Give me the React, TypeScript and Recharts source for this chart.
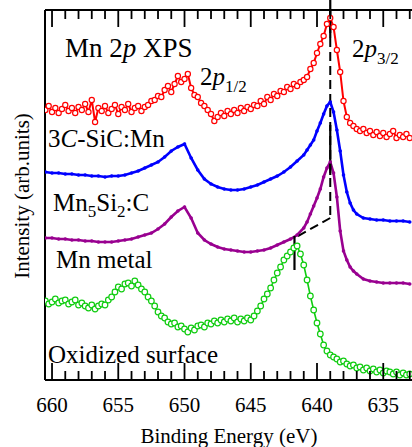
import React from "react";
import { LineChart, Line, XAxis, YAxis, ReferenceLine, Customized } from "recharts";

const SERIF = "Liberation Serif";

// Binding energy sampling (eV)
const quarterEnergy = [
  660.5, 660.25, 660, 659.75, 659.5, 659.25, 659, 658.75,
  658.5, 658.25, 658, 657.75, 657.5, 657.25, 657, 656.75,
  656.5, 656.25, 656, 655.75, 655.5, 655.25, 655, 654.75,
  654.5, 654.25, 654, 653.75, 653.5, 653.25, 653, 652.75,
  652.5, 652.25, 652, 651.75, 651.5, 651.25, 651, 650.75,
  650.5, 650.25, 650, 649.75, 649.5, 649.25, 649, 648.75,
  648.5, 648.25, 648, 647.75, 647.5, 647.25, 647, 646.75,
  646.5, 646.25, 646, 645.75, 645.5, 645.25, 645, 644.75,
  644.5, 644.25, 644, 643.75, 643.5, 643.25, 643, 642.75,
  642.5, 642.25, 642, 641.75, 641.5, 641.25, 641, 640.75,
  640.5, 640.25, 640, 639.75, 639.5, 639.25, 639, 638.75,
  638.5, 638.25, 638, 637.75, 637.5, 637.25, 637, 636.75,
  636.5, 636.25, 636, 635.75, 635.5, 635.25, 635, 634.75,
  634.5, 634.25, 634, 633.75, 633.5, 633.25, 633,
];

const smoothEnergy = [
  660.5, 660, 659.5, 659, 658.5, 658, 657.5, 657, 656.5, 656,
  655.5, 655, 654.5, 654, 653.5, 653, 652.5, 652, 651.5, 651,
  650.5, 650, 649.5, 649, 648.5, 648, 647.5, 647, 646.5, 646,
  645.5, 645, 644.5, 644, 643.5, 643, 642.5, 642, 641.5, 641,
  640.75, 640.5, 640.25, 640, 639.75, 639.5, 639.25, 639,
  638.75, 638.5, 638.25, 638, 637.75, 637.5, 637.25, 637,
  636.5, 636, 635.5, 635, 634.5, 634, 633.5, 633,
];

// Intensities (arb. units, vertically offset spectra)
const redIntensity = [
  270, 274, 268, 272, 267, 271, 275, 269,
  272, 267, 273, 270, 276, 268, 280, 258,
  272, 269, 274, 267, 271, 275, 266, 273,
  270, 276, 268, 272, 274, 269, 273, 275,
  279, 280, 284, 283, 290, 294, 288, 296,
  304, 298, 301, 306, 292, 285, 283, 277,
  274, 270, 266, 259, 263, 267, 264, 269,
  266, 270, 267, 272, 269, 273, 271, 275,
  274, 279, 276, 283, 280, 286, 284, 289,
  288, 293, 291, 296, 294, 298, 300, 303,
  311, 317, 327, 336, 344, 356, 362, 353,
  330, 308, 279, 263, 257, 254, 251, 249,
  251, 247, 249, 245, 248, 244, 247, 243,
  246, 249, 242, 245, 243, 246, 242,
];

const blueIntensity = [
  208, 207, 207, 206, 206, 205, 205, 204, 204, 203,
  204, 204, 205, 207, 209, 212, 215, 218, 223, 229,
  233, 236, 222, 210, 201, 196, 193, 191, 190, 190,
  191, 193, 195, 198, 201, 204, 208, 213, 219, 225,
  230, 235, 240, 249, 257, 266, 274, 278,
  268, 250, 229, 205, 188, 177, 170, 166,
  162, 161, 160, 160, 159, 159, 159, 158,
];

const purpleIntensity = [
  142, 142, 141, 141, 140, 140, 139, 139, 138, 138,
  138, 139, 140, 141, 143, 145, 147, 151, 156, 163,
  169, 173, 162, 147, 140, 136, 133, 131, 130, 129,
  128, 128, 129, 130, 132, 135, 138, 141, 145, 152,
  158, 166, 174, 182, 191, 203, 212, 218,
  207, 183, 149, 129, 120, 113, 109, 106,
  101, 99, 98, 97, 97, 97, 97, 96,
];

const greenIntensity = [
  79, 76, 78, 81, 77, 79, 80, 76,
  78, 80, 75, 77, 74, 72, 75, 71,
  74, 76, 75, 80, 83, 88, 93, 91,
  96, 97, 94, 99, 95, 91, 88, 83,
  79, 74, 68, 64, 62, 58, 56, 57,
  53, 54, 51, 48, 52, 50, 54, 55,
  53, 57, 56, 59, 57, 60, 58, 61,
  59, 62, 58, 61, 59, 62, 60, 64,
  69, 74, 81, 86, 92, 100, 107, 113,
  120, 124, 128, 132, 134, 126, 115, 100,
  84, 70, 57, 46, 35, 29, 25, 23,
  21, 18, 19, 16, 14, 15, 12, 13,
  10, 12, 9, 11, 8, 10, 7, 9,
  8, 6, 8, 5, 7, 5, 6,
];

const tickValues = [
  633, 634, 635, 636, 637, 638, 639, 640, 641, 642, 643, 644, 645, 646,
  647, 648, 649, 650, 651, 652, 653, 654, 655, 656, 657, 658, 659, 660,
];

const peakE = 639;
const shiftE = 641.7;

const zip = (es: number[], vs: number[]) => es.map((e, i) => ({ e, v: vs[i] }));
const redData = zip(quarterEnergy, redIntensity);
const greenData = zip(quarterEnergy, greenIntensity);
const blueData = zip(smoothEnergy, blueIntensity);
const purpleData = zip(smoothEnergy, purpleIntensity);

const fontStyle = { fontFamily: SERIF };

const css = `
#root svg text, #root svg tspan, .recharts-wrapper text, .recharts-wrapper tspan, .recharts-surface text {
  font-family: "Liberation Serif" !important;
}
`;

const BottomTick = (props: any) => {
  const { x, y, payload } = props;
  const major = payload.value % 5 === 0;
  return (
    <g>
      <line x1={x} x2={x} y1={y} y2={y - (major ? 17 : 9)} stroke="#000" strokeWidth={1.8} />
      {major && (
        <text x={x} y={y + 32} textAnchor="middle" fontSize={21} fontFamily={SERIF} style={fontStyle} fill="#000">
          {payload.value}
        </text>
      )}
    </g>
  );
};

const TopTick = (props: any) => {
  const { x, y, payload } = props;
  const major = payload.value % 5 === 0;
  return <line x1={x} x2={x} y1={y} y2={y + (major ? 17 : 9)} stroke="#000" strokeWidth={1.8} />;
};

const Texts = () => (
  <g fill="#000" fontFamily={SERIF}>
    <text x={65} y={57} fontSize={27} style={fontStyle}>
      <tspan>Mn 2</tspan>
      <tspan fontStyle="italic">p</tspan>
      <tspan> XPS</tspan>
    </text>
    <text x={200} y={85} fontSize={25} style={fontStyle}>
      <tspan>2</tspan>
      <tspan fontStyle="italic">p</tspan>
      <tspan fontSize={17} dy={7}>1/2</tspan>
    </text>
    <text x={352} y={57} fontSize={25} style={fontStyle}>
      <tspan>2</tspan>
      <tspan fontStyle="italic">p</tspan>
      <tspan fontSize={17} dy={7}>3/2</tspan>
    </text>
    <text x={48} y={147} fontSize={25} style={fontStyle}>
      <tspan>3</tspan>
      <tspan fontStyle="italic">C</tspan>
      <tspan>-SiC:Mn</tspan>
    </text>
    <text x={53} y={211} fontSize={25} style={fontStyle}>
      <tspan>Mn</tspan>
      <tspan fontSize={17} dy={6}>5</tspan>
      <tspan dy={-6}>Si</tspan>
      <tspan fontSize={17} dy={6}>2</tspan>
      <tspan dy={-6}>:C</tspan>
    </text>
    <text x={56} y={268} fontSize={25} style={fontStyle}>Mn metal</text>
    <text x={48} y={363} fontSize={25} style={fontStyle}>Oxidized surface</text>
    <text x={229} y={443} fontSize={21} textAnchor="middle" style={fontStyle}>Binding Energy (eV)</text>
    <text x={29} y={196} fontSize={21} textAnchor="middle" transform="rotate(-90 29 196)" style={fontStyle}>
      Intensity (arb.units)
    </text>
  </g>
);

export default function App() {
  return (
    <div style={{ position: "absolute", left: 0, top: 0, fontFamily: SERIF }}>
      <style>{css}</style>
      <LineChart width={412} height={447} margin={{ top: 0, right: 0, left: 0, bottom: 0 }} style={fontStyle}>
        <XAxis
          xAxisId="b"
          type="number"
          dataKey="e"
          domain={[632.83, 660.53]}
          reversed
          allowDataOverflow
          ticks={tickValues}
          interval={0}
          tick={<BottomTick />}
          tickLine={false}
          tickSize={0}
          tickMargin={0}
          axisLine={{ stroke: "#000", strokeWidth: 2 }}
          height={67}
        />
        <XAxis
          xAxisId="t"
          orientation="top"
          type="number"
          dataKey="e"
          domain={[632.83, 660.53]}
          reversed
          allowDataOverflow
          ticks={tickValues}
          interval={0}
          tick={<TopTick />}
          tickLine={false}
          tickSize={0}
          tickMargin={0}
          axisLine={{ stroke: "#000", strokeWidth: 2 }}
          height={10}
        />
        <YAxis
          yAxisId="y"
          type="number"
          domain={[0, 370]}
          allowDataOverflow
          width={45}
          tick={false}
          tickLine={false}
          axisLine={{ stroke: "#000", strokeWidth: 2 }}
        />
        <Line
          xAxisId="b"
          yAxisId="y"
          data={redData}
          dataKey="v"
          stroke="#ff0000"
          strokeWidth={2}
          dot={{ r: 2.6, stroke: "#ff0000", strokeWidth: 1.2, fill: "#fff" }}
          isAnimationActive={false}
        />
        <Line
          xAxisId="b"
          yAxisId="y"
          data={blueData}
          dataKey="v"
          stroke="#0000ff"
          strokeWidth={2.6}
          dot={{ r: 1.8, stroke: "none", fill: "#0000ff" }}
          isAnimationActive={false}
        />
        <Line
          xAxisId="b"
          yAxisId="y"
          data={purpleData}
          dataKey="v"
          stroke="#990090"
          strokeWidth={2.6}
          dot={{ r: 1.8, stroke: "none", fill: "#990090" }}
          isAnimationActive={false}
        />
        <Line
          xAxisId="b"
          yAxisId="y"
          data={greenData}
          dataKey="v"
          stroke="#11cc11"
          strokeWidth={1.6}
          dot={{ r: 2.8, stroke: "#11cc11", strokeWidth: 1.2, fill: "#fff" }}
          isAnimationActive={false}
        />
        <ReferenceLine
          xAxisId="b"
          yAxisId="y"
          segment={[{ x: peakE, y: 370 }, { x: peakE, y: 162 }]}
          stroke="#000"
          strokeWidth={2}
          strokeDasharray="9 5"
          ifOverflow="visible"
        />
        <ReferenceLine
          xAxisId="b"
          yAxisId="y"
          segment={[{ x: peakE, y: 380 }, { x: peakE, y: 342 }]}
          stroke="#000"
          strokeWidth={2.2}
          ifOverflow="visible"
        />
        <ReferenceLine
          xAxisId="b"
          yAxisId="y"
          segment={[{ x: peakE, y: 255 }, { x: peakE, y: 205 }]}
          stroke="#000"
          strokeWidth={2.2}
          ifOverflow="visible"
        />
        <ReferenceLine
          xAxisId="b"
          yAxisId="y"
          segment={[{ x: peakE, y: 162 }, { x: shiftE, y: 142 }]}
          stroke="#000"
          strokeWidth={2}
          strokeDasharray="9 5"
          ifOverflow="visible"
        />
        <ReferenceLine
          xAxisId="b"
          yAxisId="y"
          segment={[{ x: shiftE, y: 144 }, { x: shiftE, y: 110 }]}
          stroke="#000"
          strokeWidth={2.2}
          ifOverflow="visible"
        />
        <Customized component={Texts} />
      </LineChart>
    </div>
  );
}
